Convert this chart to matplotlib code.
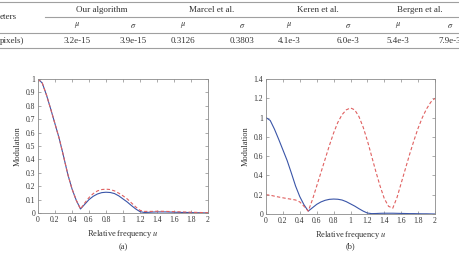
import numpy as np
import matplotlib
matplotlib.use("Agg")
import matplotlib.pyplot as plt

W, H = 459, 256

# table contents
groups = ["Our algorithm", "Marcel et al.", "Keren et al.", "Bergen et al."]
mu_vals = ["3.2e-15", "0.3126", "4.1e-3", "5.4e-3"]
sigma_vals = ["3.9e-15", "0.3803", "6.0e-3", "7.9e-3"]

# curves
u = [0.0, 0.05, 0.1, 0.15, 0.2, 0.25, 0.3, 0.35, 0.4, 0.45, 0.5,
     0.55, 0.6, 0.65, 0.7, 0.75, 0.8, 0.85, 0.9, 0.95, 1.0,
     1.05, 1.1, 1.15, 1.2, 1.25, 1.3, 1.35, 1.4, 1.45, 1.5,
     1.55, 1.6, 1.65, 1.7, 1.75, 1.8, 1.85, 1.9, 1.95, 2.0]

ours = [1.0, 0.97, 0.88, 0.775, 0.665, 0.555, 0.425, 0.29, 0.18, 0.095, 0.03,
        0.065, 0.1, 0.125, 0.142, 0.152, 0.155, 0.153, 0.145, 0.128, 0.105,
        0.082, 0.055, 0.03, 0.01, 0.004, 0.005, 0.007, 0.008, 0.008, 0.008,
        0.007, 0.006, 0.005, 0.004, 0.004, 0.003, 0.002, 0.002, 0.001, 0.0]

ref_a = [1.0, 0.97, 0.88, 0.775, 0.665, 0.555, 0.425, 0.29, 0.18, 0.095, 0.03,
         0.075, 0.115, 0.145, 0.165, 0.175, 0.178, 0.175, 0.165, 0.148, 0.128,
         0.105, 0.075, 0.045, 0.02, 0.012, 0.012, 0.012, 0.013, 0.013, 0.012,
         0.011, 0.01, 0.009, 0.008, 0.007, 0.006, 0.005, 0.004, 0.003, 0.002]

ref_b = [0.2, 0.195, 0.185, 0.176, 0.168, 0.16, 0.153, 0.145, 0.125, 0.08, 0.03,
         0.15, 0.29, 0.43, 0.57, 0.71, 0.84, 0.95, 1.03, 1.08, 1.1,
         1.08, 1.01, 0.9, 0.76, 0.6, 0.44, 0.29, 0.16, 0.08, 0.06,
         0.17, 0.32, 0.47, 0.62, 0.76, 0.89, 1.0, 1.09, 1.16, 1.2]

BLUE = "#3a55a8"
RED = "#e06060"
GRAY = "#8a8a8a"
TXT = "#333333"

plt.rcParams["font.family"] = ["Liberation Serif", "DejaVu Serif"]
plt.rcParams["mathtext.fontset"] = "stix"

fig = plt.figure(figsize=(W / 100, H / 100), dpi=100)


def fx(x):
    return x / W


def fy(y):
    return 1 - y / H


# ---- table at top ----
for y, x0 in [(1.5, 0), (17, 45), (33, 0), (48, 0)]:
    fig.add_artist(plt.Line2D([fx(x0), 1], [fy(y), fy(y)], color="#a0a0a0", lw=0.8))

tfs = 6.5
head_x = [102, 212, 318, 420]
mu_x = [77, 183, 289, 398]
sig_x = [133, 242, 348, 450]
fig.text(fx(0), fy(17), "eters", fontsize=tfs, color=TXT, ha="left", va="center")
fig.text(fx(0), fy(41), "pixels)", fontsize=tfs, color=TXT, ha="left", va="center")
for i, g in enumerate(groups):
    fig.text(fx(head_x[i]), fy(10), g, fontsize=tfs, color=TXT, ha="center", va="center")
    fig.text(fx(mu_x[i]), fy(25.5), r"$\mu$", fontsize=tfs - 0.5, color=TXT,
             ha="center", va="center")
    fig.text(fx(sig_x[i]), fy(25.5), r"$\sigma$", fontsize=tfs - 0.5, color=TXT,
             ha="center", va="center")
    fig.text(fx(mu_x[i]), fy(41), mu_vals[i], fontsize=tfs, color=TXT, ha="center", va="center")
    fig.text(fx(sig_x[i]), fy(41), sigma_vals[i], fontsize=tfs, color=TXT, ha="center", va="center")

# ---- plots ----
ax1 = fig.add_axes([fx(38), fy(213), fx(208) - fx(38), fy(79) - fy(213)])
ax2 = fig.add_axes([fx(266), fy(214), fx(435) - fx(266), fy(79) - fy(214)])

ax1.plot(u, ours, color=BLUE, lw=0.8)
ax1.plot(u, ref_a, color=RED, lw=0.8, ls=(0, (3, 2)))
ax2.plot(u, ours, color=BLUE, lw=0.8)
ax2.plot(u, ref_b, color=RED, lw=0.8, ls=(0, (3, 2)))

xt = np.round(np.arange(0, 2.01, 0.2), 1)
for ax, ymax, ystep in [(ax1, 1.0, 0.1), (ax2, 1.4, 0.2)]:
    ax.set_xlim(0, 2)
    ax.set_ylim(0, ymax)
    ax.set_xticks(xt)
    ax.set_xticklabels([f"{v:g}" for v in xt])
    yt = np.round(np.arange(0, ymax + 1e-9, ystep), 1)
    ax.set_yticks(yt)
    ax.set_yticklabels([f"{v:g}" for v in yt])
    ax.tick_params(direction="in", top=True, right=True, length=2, width=0.5,
                   labelsize=5.5, colors=GRAY, labelcolor=TXT, pad=2)
    for s in ax.spines.values():
        s.set_color(GRAY)
        s.set_linewidth(0.6)
    ax.set_xlabel(r"Relative frequency $u$", fontsize=6, color=TXT, labelpad=3)
    ax.set_ylabel("Modulation", fontsize=6, color=TXT, labelpad=3)

fig.text(fx(123), fy(247), "(a)", fontsize=6, color=TXT, ha="center", va="center")
fig.text(fx(350), fy(246), "(b)", fontsize=6, color=TXT, ha="center", va="center")

fig.savefig("out.png", dpi=100)
